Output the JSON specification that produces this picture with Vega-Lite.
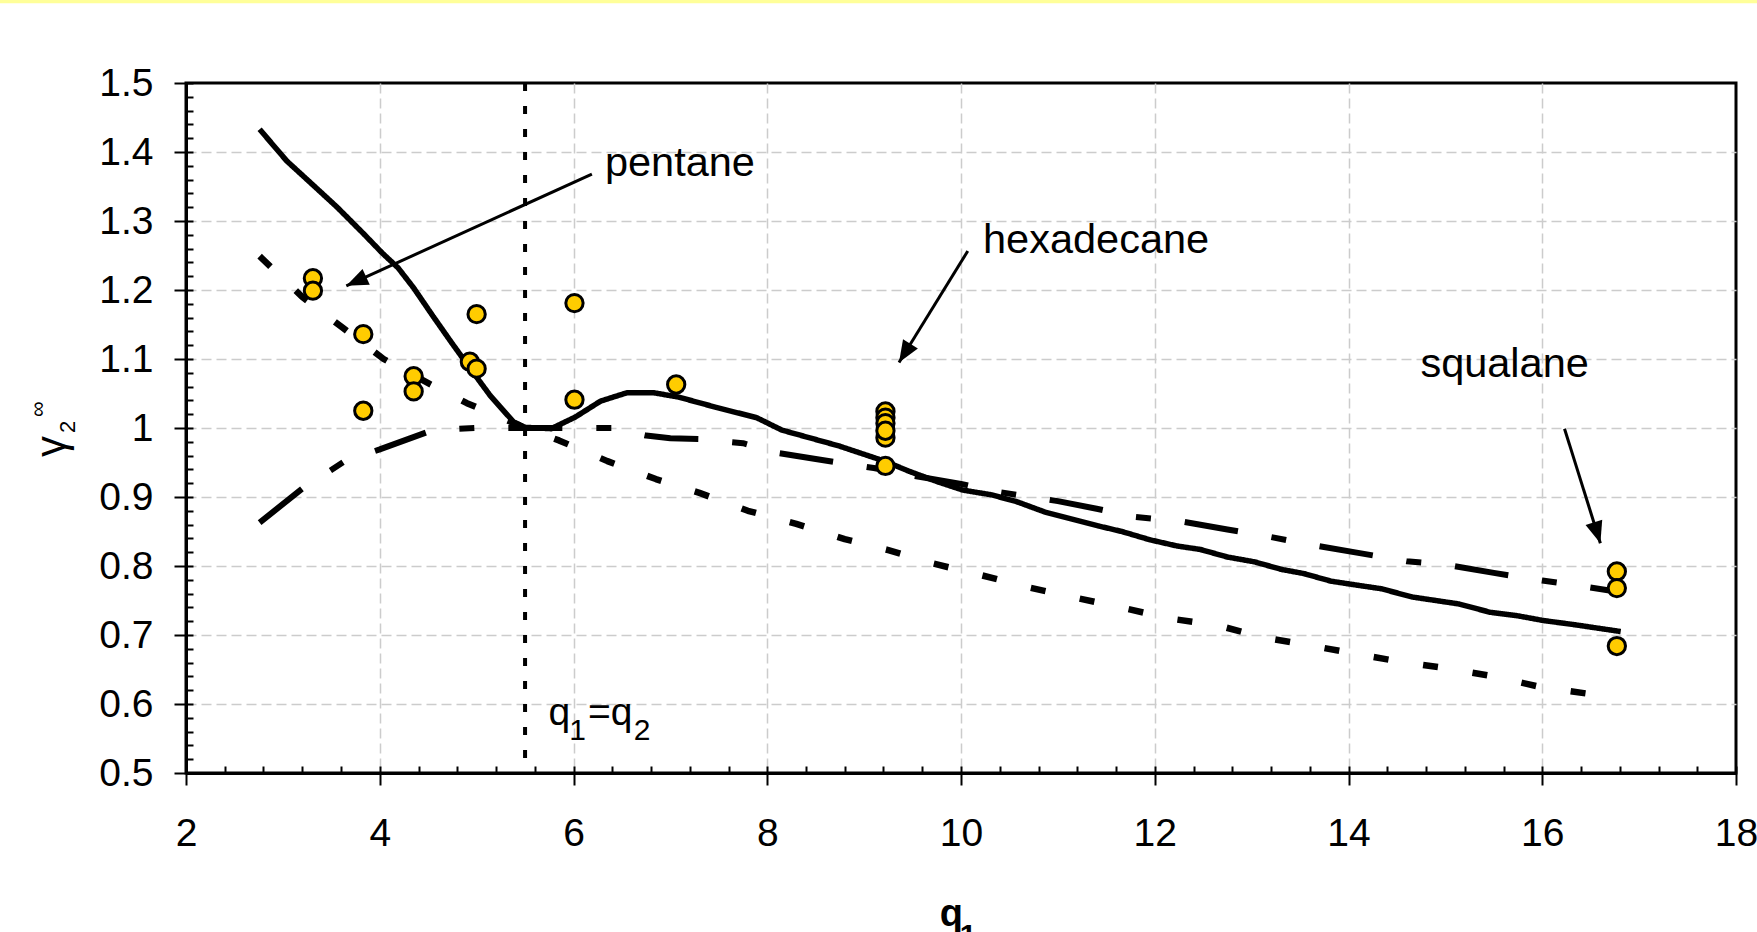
{
  "$schema": "https://vega.github.io/schema/vega-lite/v6.json",
  "width": 1550,
  "height": 690,
  "autosize": {"type": "none"},
  "padding": {"left": 186, "top": 83, "right": 21, "bottom": 159},
  "background": "white",
  "config": {
    "view": {"stroke": "black", "strokeWidth": 3},
    "font": "Liberation Sans",
    "text": {"font": "Liberation Sans", "color": "black"}
  },
  "datasets": {
    "curves": [
      {"model": "model 1", "q1": 2.76, "gamma": 1.433},
      {"model": "model 1", "q1": 3.04, "gamma": 1.387},
      {"model": "model 1", "q1": 3.32, "gamma": 1.351},
      {"model": "model 1", "q1": 3.56, "gamma": 1.320},
      {"model": "model 1", "q1": 3.83, "gamma": 1.282},
      {"model": "model 1", "q1": 4.03, "gamma": 1.253},
      {"model": "model 1", "q1": 4.19, "gamma": 1.232},
      {"model": "model 1", "q1": 4.35, "gamma": 1.203},
      {"model": "model 1", "q1": 4.55, "gamma": 1.162},
      {"model": "model 1", "q1": 4.74, "gamma": 1.124},
      {"model": "model 1", "q1": 4.94, "gamma": 1.085},
      {"model": "model 1", "q1": 5.14, "gamma": 1.047},
      {"model": "model 1", "q1": 5.38, "gamma": 1.009},
      {"model": "model 1", "q1": 5.5, "gamma": 1.001},
      {"model": "model 1", "q1": 5.77, "gamma": 0.999},
      {"model": "model 1", "q1": 6.02, "gamma": 1.016},
      {"model": "model 1", "q1": 6.28, "gamma": 1.039},
      {"model": "model 1", "q1": 6.55, "gamma": 1.051},
      {"model": "model 1", "q1": 6.83, "gamma": 1.051},
      {"model": "model 1", "q1": 7.08, "gamma": 1.045},
      {"model": "model 1", "q1": 7.47, "gamma": 1.030},
      {"model": "model 1", "q1": 7.89, "gamma": 1.015},
      {"model": "model 1", "q1": 8.15, "gamma": 0.997},
      {"model": "model 1", "q1": 8.74, "gamma": 0.974},
      {"model": "model 1", "q1": 9.21, "gamma": 0.952},
      {"model": "model 1", "q1": 9.47, "gamma": 0.937},
      {"model": "model 1", "q1": 9.76, "gamma": 0.922},
      {"model": "model 1", "q1": 10.02, "gamma": 0.910},
      {"model": "model 1", "q1": 10.32, "gamma": 0.903},
      {"model": "model 1", "q1": 10.58, "gamma": 0.893},
      {"model": "model 1", "q1": 10.87, "gamma": 0.878},
      {"model": "model 1", "q1": 11.42, "gamma": 0.858},
      {"model": "model 1", "q1": 11.66, "gamma": 0.850},
      {"model": "model 1", "q1": 11.95, "gamma": 0.838},
      {"model": "model 1", "q1": 12.23, "gamma": 0.829},
      {"model": "model 1", "q1": 12.47, "gamma": 0.824},
      {"model": "model 1", "q1": 12.75, "gamma": 0.813},
      {"model": "model 1", "q1": 13.03, "gamma": 0.806},
      {"model": "model 1", "q1": 13.31, "gamma": 0.795},
      {"model": "model 1", "q1": 13.54, "gamma": 0.789},
      {"model": "model 1", "q1": 13.82, "gamma": 0.778},
      {"model": "model 1", "q1": 14.10, "gamma": 0.772},
      {"model": "model 1", "q1": 14.34, "gamma": 0.767},
      {"model": "model 1", "q1": 14.66, "gamma": 0.755},
      {"model": "model 1", "q1": 14.90, "gamma": 0.750},
      {"model": "model 1", "q1": 15.14, "gamma": 0.745},
      {"model": "model 1", "q1": 15.46, "gamma": 0.733},
      {"model": "model 1", "q1": 15.74, "gamma": 0.728},
      {"model": "model 1", "q1": 16.01, "gamma": 0.721},
      {"model": "model 1", "q1": 16.33, "gamma": 0.715},
      {"model": "model 1", "q1": 16.81, "gamma": 0.705},
      {"model": "model 2", "q1": 2.76, "gamma": 0.863},
      {"model": "model 2", "q1": 3.2, "gamma": 0.912},
      {"model": "model 2", "q1": 3.64, "gamma": 0.952},
      {"model": "model 2", "q1": 4.0, "gamma": 0.969},
      {"model": "model 2", "q1": 4.55, "gamma": 0.997},
      {"model": "model 2", "q1": 5.0, "gamma": 1.0},
      {"model": "model 2", "q1": 5.5, "gamma": 1.0},
      {"model": "model 2", "q1": 6.0, "gamma": 1.0},
      {"model": "model 2", "q1": 6.4, "gamma": 1.0},
      {"model": "model 2", "q1": 6.75, "gamma": 0.989},
      {"model": "model 2", "q1": 7.0, "gamma": 0.985},
      {"model": "model 2", "q1": 7.3, "gamma": 0.984},
      {"model": "model 2", "q1": 7.75, "gamma": 0.978},
      {"model": "model 2", "q1": 8.1, "gamma": 0.964},
      {"model": "model 2", "q1": 8.5, "gamma": 0.955},
      {"model": "model 2", "q1": 9.1, "gamma": 0.942},
      {"model": "model 2", "q1": 9.5, "gamma": 0.931},
      {"model": "model 2", "q1": 10.0, "gamma": 0.919},
      {"model": "model 2", "q1": 10.4, "gamma": 0.907},
      {"model": "model 2", "q1": 11.0, "gamma": 0.894},
      {"model": "model 2", "q1": 11.4, "gamma": 0.883},
      {"model": "model 2", "q1": 11.8, "gamma": 0.871},
      {"model": "model 2", "q1": 12.3, "gamma": 0.864},
      {"model": "model 2", "q1": 12.75, "gamma": 0.853},
      {"model": "model 2", "q1": 13.2, "gamma": 0.842},
      {"model": "model 2", "q1": 13.6, "gamma": 0.831},
      {"model": "model 2", "q1": 14.1, "gamma": 0.819},
      {"model": "model 2", "q1": 14.6, "gamma": 0.807},
      {"model": "model 2", "q1": 15.0, "gamma": 0.802},
      {"model": "model 2", "q1": 15.5, "gamma": 0.790},
      {"model": "model 2", "q1": 16.0, "gamma": 0.779},
      {"model": "model 2", "q1": 16.4, "gamma": 0.771},
      {"model": "model 2", "q1": 16.76, "gamma": 0.763},
      {"model": "model 3", "q1": 2.76, "gamma": 1.249},
      {"model": "model 3", "q1": 3.2, "gamma": 1.19},
      {"model": "model 3", "q1": 3.62, "gamma": 1.145},
      {"model": "model 3", "q1": 4.04, "gamma": 1.1},
      {"model": "model 3", "q1": 4.5, "gamma": 1.065},
      {"model": "model 3", "q1": 4.9, "gamma": 1.036},
      {"model": "model 3", "q1": 5.5, "gamma": 1.0},
      {"model": "model 3", "q1": 5.85, "gamma": 0.982},
      {"model": "model 3", "q1": 6.35, "gamma": 0.952},
      {"model": "model 3", "q1": 6.85, "gamma": 0.926},
      {"model": "model 3", "q1": 7.3, "gamma": 0.906},
      {"model": "model 3", "q1": 7.8, "gamma": 0.88},
      {"model": "model 3", "q1": 8.3, "gamma": 0.861},
      {"model": "model 3", "q1": 8.8, "gamma": 0.839},
      {"model": "model 3", "q1": 9.25, "gamma": 0.823},
      {"model": "model 3", "q1": 9.7, "gamma": 0.804},
      {"model": "model 3", "q1": 10.2, "gamma": 0.787},
      {"model": "model 3", "q1": 10.7, "gamma": 0.769},
      {"model": "model 3", "q1": 11.15, "gamma": 0.755},
      {"model": "model 3", "q1": 11.65, "gamma": 0.74},
      {"model": "model 3", "q1": 12.15, "gamma": 0.724},
      {"model": "model 3", "q1": 12.65, "gamma": 0.714},
      {"model": "model 3", "q1": 13.1, "gamma": 0.697},
      {"model": "model 3", "q1": 13.6, "gamma": 0.685},
      {"model": "model 3", "q1": 14.1, "gamma": 0.672},
      {"model": "model 3", "q1": 14.55, "gamma": 0.661},
      {"model": "model 3", "q1": 15.05, "gamma": 0.651},
      {"model": "model 3", "q1": 15.5, "gamma": 0.64},
      {"model": "model 3", "q1": 16.0, "gamma": 0.624},
      {"model": "model 3", "q1": 16.57, "gamma": 0.613}
    ],
    "measured": [
      {"group": "pentane", "q1": 3.31, "gamma": 1.217},
      {"group": "pentane", "q1": 3.31, "gamma": 1.199},
      {"group": "other", "q1": 3.83, "gamma": 1.136},
      {"group": "other", "q1": 3.83, "gamma": 1.025},
      {"group": "other", "q1": 4.35, "gamma": 1.075},
      {"group": "other", "q1": 4.35, "gamma": 1.053},
      {"group": "other", "q1": 4.93, "gamma": 1.096},
      {"group": "other", "q1": 5.0, "gamma": 1.086},
      {"group": "other", "q1": 5.0, "gamma": 1.165},
      {"group": "other", "q1": 6.01, "gamma": 1.181},
      {"group": "other", "q1": 6.01, "gamma": 1.041},
      {"group": "other", "q1": 7.06, "gamma": 1.063},
      {"group": "hexadecane", "q1": 9.22, "gamma": 1.024},
      {"group": "hexadecane", "q1": 9.22, "gamma": 1.015},
      {"group": "hexadecane", "q1": 9.22, "gamma": 1.007},
      {"group": "hexadecane", "q1": 9.22, "gamma": 0.986},
      {"group": "hexadecane", "q1": 9.22, "gamma": 0.996},
      {"group": "hexadecane", "q1": 9.22, "gamma": 0.945},
      {"group": "squalane", "q1": 16.77, "gamma": 0.792},
      {"group": "squalane", "q1": 16.77, "gamma": 0.768},
      {"group": "squalane", "q1": 16.77, "gamma": 0.684}
    ],
    "labels": [
      {"text": "pentane", "q1": 6.324, "gamma": 1.365},
      {"text": "hexadecane", "q1": 10.227, "gamma": 1.2536},
      {"text": "squalane", "q1": 14.742, "gamma": 1.074}
    ],
    "arrows": [
      {"label": "pentane", "q1": 6.19, "gamma": 1.368, "q1_tip": 3.655, "gamma_tip": 1.206},
      {"label": "hexadecane", "q1": 10.07, "gamma": 1.2565, "q1_tip": 9.36, "gamma_tip": 1.095},
      {"label": "squalane", "q1": 16.23, "gamma": 0.999, "q1_tip": 16.6, "gamma_tip": 0.833}
    ],
    "equal_q": [{"q1": 5.5}],
    "qeq_main": [
      {"t": "q", "q1": 5.741, "gamma": 0.5696},
      {"t": "=q", "q1": 6.149, "gamma": 0.5696}
    ],
    "qeq_sub": [
      {"t": "1", "q1": 5.957, "gamma": 0.5478},
      {"t": "2", "q1": 6.623, "gamma": 0.5478}
    ],
    "ytitle_main": [{"t": "γ", "q1": 0.748, "gamma": 0.958}],
    "ytitle_small": [
      {"t": "2", "q1": 0.8545, "gamma": 0.9928},
      {"t": "∞", "q1": 0.542, "gamma": 1.016}
    ],
    "xtitle_main": [{"t": "q", "q1": 9.781, "gamma": 0.2777}],
    "xtitle_sub": [{"t": "1", "q1": 9.988, "gamma": 0.2514}],
    "band": [{"q1": 0.0, "q1_end": 18.3, "gamma": 1.6203, "gamma_end": 1.6155}]
  },
  "layer": [
    {
      "data": {"name": "band"},
      "mark": {"type": "rect", "color": "#ffff99", "clip": false},
      "encoding": {
        "x": {"field": "q1", "type": "quantitative", "scale": {"domain": [2, 18], "nice": false, "zero": false},
          "axis": {"orient": "bottom", "values": [4, 6, 8, 10, 12, 14, 16], "grid": true, "gridColor": "#cccccc", "gridDash": [10, 5], "gridWidth": 1.5,
            "labels": false, "ticks": false, "domain": false, "title": null}},
        "x2": {"field": "q1_end"},
        "y": {"field": "gamma", "type": "quantitative", "scale": {"domain": [0.5, 1.5], "nice": false, "zero": false},
          "axis": {"orient": "left", "values": [0.6, 0.7, 0.8, 0.9, 1, 1.1, 1.2, 1.3, 1.4], "grid": true, "gridColor": "#cccccc", "gridDash": [10, 5], "gridWidth": 1.5,
            "labels": false, "ticks": false, "domain": false, "title": null}},
        "y2": {"field": "gamma_end"}
      }
    },
    {
      "data": {"name": "curves"},
      "mark": {"type": "line", "color": "black", "strokeCap": "butt", "strokeJoin": "round"},
      "encoding": {
        "x": {"field": "q1", "type": "quantitative", "scale": {"domain": [2, 18], "nice": false, "zero": false},
          "axis": {"orient": "bottom", "values": [2,2.4,2.8,3.2,3.6,4,4.4,4.8,5.2,5.6,6,6.4,6.8,7.2,7.6,8,8.4,8.8,9.2,9.6,10,10.4,10.8,11.2,11.6,12,12.4,12.8,13.2,13.6,14,14.4,14.8,15.2,15.6,16,16.4,16.8,17.2,17.6,18],
            "labels": false, "domain": false, "grid": false, "ticks": true, "tickSize": -7, "tickWidth": 2, "tickColor": "black", "title": null}},
        "y": {"field": "gamma", "type": "quantitative", "scale": {"domain": [0.5, 1.5], "nice": false, "zero": false},
          "axis": {"orient": "left", "values": [0.5,0.52,0.54,0.56,0.58,0.6,0.62,0.64,0.66,0.68,0.7,0.72,0.74,0.76,0.78,0.8,0.82,0.84,0.86,0.88,0.9,0.92,0.94,0.96,0.98,1,1.02,1.04,1.06,1.08,1.1,1.12,1.14,1.16,1.18,1.2,1.22,1.24,1.26,1.28,1.3,1.32,1.34,1.36,1.38,1.4,1.42,1.44,1.46,1.48,1.5],
            "labels": false, "domain": false, "grid": false, "ticks": true, "tickSize": -7, "tickWidth": 2, "tickColor": "black", "title": null}},
        "detail": {"field": "model", "type": "nominal"},
        "strokeDash": {"field": "model", "type": "nominal", "legend": null,
          "scale": {"domain": ["model 1", "model 2", "model 3"], "range": [[1, 0], [54, 34, 15, 34], [15, 35]]}},
        "strokeWidth": {"field": "model", "type": "nominal", "legend": null,
          "scale": {"domain": ["model 1", "model 2", "model 3"], "range": [5.5, 6.5, 6.5]}}
      }
    },
    {
      "data": {"name": "equal_q"},
      "mark": {"type": "rule", "color": "black", "strokeWidth": 4, "strokeDash": [8, 15]},
      "encoding": {
        "x": {"field": "q1", "type": "quantitative", "scale": {"domain": [2, 18], "nice": false, "zero": false}, "axis": null}
      }
    },
    {
      "data": {"name": "arrows"},
      "mark": {"type": "rule", "color": "black", "strokeWidth": 3},
      "encoding": {
        "x": {"field": "q1", "type": "quantitative", "scale": {"domain": [2, 18], "nice": false, "zero": false}, "axis": null},
        "x2": {"field": "q1_tip"},
        "y": {"field": "gamma", "type": "quantitative", "scale": {"domain": [0.5, 1.5], "nice": false, "zero": false}, "axis": null},
        "y2": {"field": "gamma_tip"}
      }
    },
    {
      "data": {"name": "arrows"},
      "transform": [{"filter": "datum.label === 'pentane'"}],
      "mark": {"type": "point", "shape": "M0,0 L-0.4,1 L0.4,1 Z", "filled": true, "color": "black", "opacity": 1, "size": 1900, "angle": 245.5},
      "encoding": {
        "x": {"field": "q1_tip", "type": "quantitative", "scale": {"domain": [2, 18], "nice": false, "zero": false}, "axis": null},
        "y": {"field": "gamma_tip", "type": "quantitative", "scale": {"domain": [0.5, 1.5], "nice": false, "zero": false}, "axis": null}
      }
    },
    {
      "data": {"name": "arrows"},
      "transform": [{"filter": "datum.label === 'hexadecane'"}],
      "mark": {"type": "point", "shape": "M0,0 L-0.4,1 L0.4,1 Z", "filled": true, "color": "black", "opacity": 1, "size": 1900, "angle": 211.7},
      "encoding": {
        "x": {"field": "q1_tip", "type": "quantitative", "scale": {"domain": [2, 18], "nice": false, "zero": false}, "axis": null},
        "y": {"field": "gamma_tip", "type": "quantitative", "scale": {"domain": [0.5, 1.5], "nice": false, "zero": false}, "axis": null}
      }
    },
    {
      "data": {"name": "arrows"},
      "transform": [{"filter": "datum.label === 'squalane'"}],
      "mark": {"type": "point", "shape": "M0,0 L-0.4,1 L0.4,1 Z", "filled": true, "color": "black", "opacity": 1, "size": 1900, "angle": 162.7},
      "encoding": {
        "x": {"field": "q1_tip", "type": "quantitative", "scale": {"domain": [2, 18], "nice": false, "zero": false}, "axis": null},
        "y": {"field": "gamma_tip", "type": "quantitative", "scale": {"domain": [0.5, 1.5], "nice": false, "zero": false}, "axis": null}
      }
    },
    {
      "data": {"name": "measured"},
      "mark": {"type": "point", "shape": "circle", "filled": true, "fill": "#ffcc00", "stroke": "black", "strokeWidth": 3, "opacity": 1, "size": 300},
      "encoding": {
        "x": {"field": "q1", "type": "quantitative", "scale": {"domain": [2, 18], "nice": false, "zero": false},
          "axis": {"orient": "bottom", "values": [2, 4, 6, 8, 10, 12, 14, 16, 18], "format": "d", "title": null,
            "grid": false, "labelFlush": false, "labelOverlap": false, "labelBound": false,
            "domain": true, "domainColor": "black", "domainWidth": 3,
            "ticks": true, "tickColor": "black", "tickWidth": 2, "tickSize": 12,
            "labelFont": "Liberation Sans", "labelFontSize": 39, "labelColor": "black", "labelPadding": 29}},
        "y": {"field": "gamma", "type": "quantitative", "scale": {"domain": [0.5, 1.5], "nice": false, "zero": false},
          "axis": {"orient": "left", "values": [0.5, 0.6, 0.7, 0.8, 0.9, 1, 1.1, 1.2, 1.3, 1.4, 1.5], "format": ".1~f", "title": null,
            "grid": false, "labelFlush": false, "labelOverlap": false,
            "domain": true, "domainColor": "black", "domainWidth": 3,
            "ticks": true, "tickColor": "black", "tickWidth": 2, "tickSize": 12,
            "labelFont": "Liberation Sans", "labelFontSize": 39, "labelColor": "black", "labelPadding": 21}}
      }
    },
    {
      "data": {"name": "labels"},
      "mark": {"type": "text", "fontSize": 41.5, "align": "left", "baseline": "alphabetic"},
      "encoding": {
        "x": {"field": "q1", "type": "quantitative", "scale": {"domain": [2, 18], "nice": false, "zero": false}, "axis": null},
        "y": {"field": "gamma", "type": "quantitative", "scale": {"domain": [0.5, 1.5], "nice": false, "zero": false}, "axis": null},
        "text": {"field": "text"}
      }
    },
    {
      "data": {"name": "qeq_main"},
      "mark": {"type": "text", "fontSize": 39, "align": "left", "baseline": "alphabetic"},
      "encoding": {
        "x": {"field": "q1", "type": "quantitative", "scale": {"domain": [2, 18], "nice": false, "zero": false}, "axis": null},
        "y": {"field": "gamma", "type": "quantitative", "scale": {"domain": [0.5, 1.5], "nice": false, "zero": false}, "axis": null},
        "text": {"field": "t"}
      }
    },
    {
      "data": {"name": "qeq_sub"},
      "mark": {"type": "text", "fontSize": 30, "align": "left", "baseline": "alphabetic"},
      "encoding": {
        "x": {"field": "q1", "type": "quantitative", "scale": {"domain": [2, 18], "nice": false, "zero": false}, "axis": null},
        "y": {"field": "gamma", "type": "quantitative", "scale": {"domain": [0.5, 1.5], "nice": false, "zero": false}, "axis": null},
        "text": {"field": "t"}
      }
    },
    {
      "data": {"name": "ytitle_main"},
      "mark": {"type": "text", "fontSize": 42, "align": "left", "baseline": "alphabetic", "angle": 270},
      "encoding": {
        "x": {"field": "q1", "type": "quantitative", "scale": {"domain": [2, 18], "nice": false, "zero": false}, "axis": null},
        "y": {"field": "gamma", "type": "quantitative", "scale": {"domain": [0.5, 1.5], "nice": false, "zero": false}, "axis": null},
        "text": {"field": "t"}
      }
    },
    {
      "data": {"name": "ytitle_small"},
      "mark": {"type": "text", "fontSize": 22, "align": "left", "baseline": "alphabetic", "angle": 270},
      "encoding": {
        "x": {"field": "q1", "type": "quantitative", "scale": {"domain": [2, 18], "nice": false, "zero": false}, "axis": null},
        "y": {"field": "gamma", "type": "quantitative", "scale": {"domain": [0.5, 1.5], "nice": false, "zero": false}, "axis": null},
        "text": {"field": "t"}
      }
    },
    {
      "data": {"name": "xtitle_main"},
      "mark": {"type": "text", "fontSize": 38, "fontWeight": "bold", "align": "left", "baseline": "alphabetic"},
      "encoding": {
        "x": {"field": "q1", "type": "quantitative", "scale": {"domain": [2, 18], "nice": false, "zero": false}, "axis": null},
        "y": {"field": "gamma", "type": "quantitative", "scale": {"domain": [0.5, 1.5], "nice": false, "zero": false}, "axis": null},
        "text": {"field": "t"}
      }
    },
    {
      "data": {"name": "xtitle_sub"},
      "mark": {"type": "text", "fontSize": 30, "fontWeight": "bold", "align": "left", "baseline": "alphabetic"},
      "encoding": {
        "x": {"field": "q1", "type": "quantitative", "scale": {"domain": [2, 18], "nice": false, "zero": false}, "axis": null},
        "y": {"field": "gamma", "type": "quantitative", "scale": {"domain": [0.5, 1.5], "nice": false, "zero": false}, "axis": null},
        "text": {"field": "t"}
      }
    }
  ],
  "resolve": {"axis": {"x": "independent", "y": "independent"}}
}
